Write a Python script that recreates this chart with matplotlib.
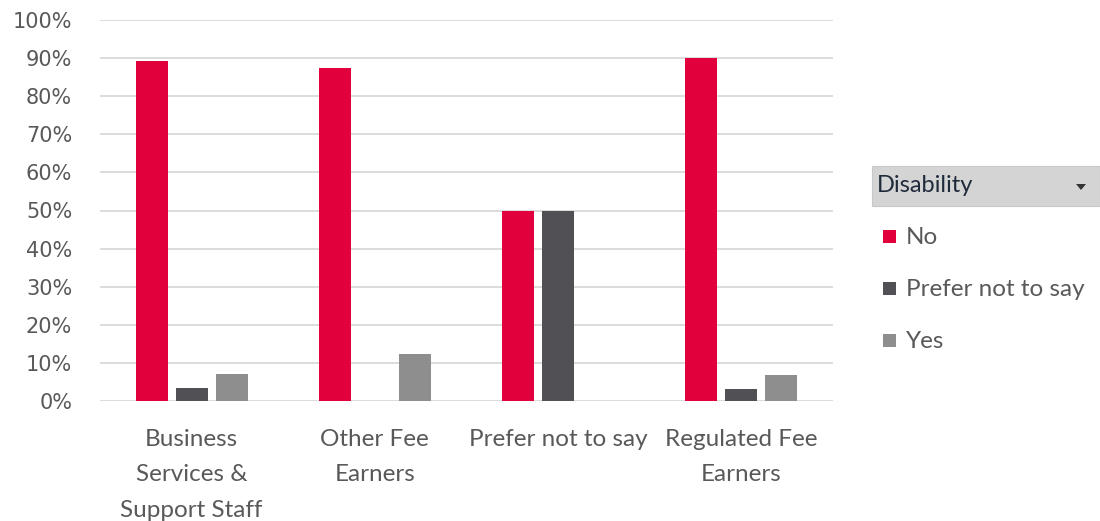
import numpy as np
import matplotlib.pyplot as plt
from matplotlib.patches import Rectangle, Polygon

# ==========================================
# data
# ==========================================
categories = ["Business\nServices &\nSupport Staff", "Other Fee\nEarners",
              "Prefer not to say", "Regulated Fee\nEarners"]
series_names = ["No", "Prefer not to say", "Yes"]
no_vals = [89.2, 87.4, 50.0, 90.0]
pnts_vals = [3.4, 0.0, 50.0, 3.1]
yes_vals = [7.1, 12.3, 0.0, 6.8]
yticks = [0, 10, 20, 30, 40, 50, 60, 70, 80, 90, 100]

colors = ["#E1003C", "#505055", "#8E8E8E"]
grid_c = "#D9D9D9"
text_c = "#595959"

fig = plt.figure(figsize=(11, 5.21), dpi=100)
ax = fig.add_axes([100 / 1100, 1 - 401 / 521, 733 / 1100, 381 / 521])

x = np.arange(len(categories))
w = 0.175
step = 0.218
for i, vals in enumerate([no_vals, pnts_vals, yes_vals]):
    ax.bar(x + (i - 1) * step, vals, width=w, color=colors[i], zorder=3)

ax.set_xlim(-0.5, len(categories) - 0.5)
ax.set_ylim(0, 100)
ax.set_yticks(yticks)
ax.set_yticklabels([f"{t}%" for t in yticks], fontsize=15, color=text_c,
                   family="DejaVu Sans")
ax.set_xticks(x)
ax.set_xticklabels(categories, fontsize=17.5, color=text_c, family="Lato",
                   linespacing=1.85)
ax.tick_params(axis="both", length=0)
ax.tick_params(axis="y", pad=20)
ax.tick_params(axis="x", pad=20)
ax.grid(axis="y", color=grid_c, linewidth=1.3, zorder=0)
ax.set_axisbelow(True)
for s in ax.spines.values():
    s.set_visible(False)

# --- legend (pivot chart style) ---
fig.patches.append(Rectangle((872 / 1100, 1 - 206 / 521), 228 / 1100, 40 / 521,
                             transform=fig.transFigure, facecolor="#D4D4D4",
                             edgecolor="#C8C8C8", linewidth=0.8))
fig.text(877 / 1100, 1 - 186 / 521, "Disability", fontsize=17, color="#1F2A3A",
         family="Lato", va="center", ha="left")
fig.patches.append(Polygon([[1076 / 1100, 1 - 184 / 521], [1086 / 1100, 1 - 184 / 521],
                            [1081 / 1100, 1 - 190 / 521]], closed=True,
                           transform=fig.transFigure, facecolor="#333333"))
leg_y = [237, 289, 341]
for name, c, yy in zip(series_names, colors, leg_y):
    fig.patches.append(Rectangle((883 / 1100, 1 - (yy + 6) / 521), 13 / 1100, 13 / 521,
                                 transform=fig.transFigure, facecolor=c))
    fig.text(906 / 1100, 1 - yy / 521, name, fontsize=17.5, color=text_c,
             family="Lato", va="center", ha="left")

fig.savefig("out.png", dpi=100)
